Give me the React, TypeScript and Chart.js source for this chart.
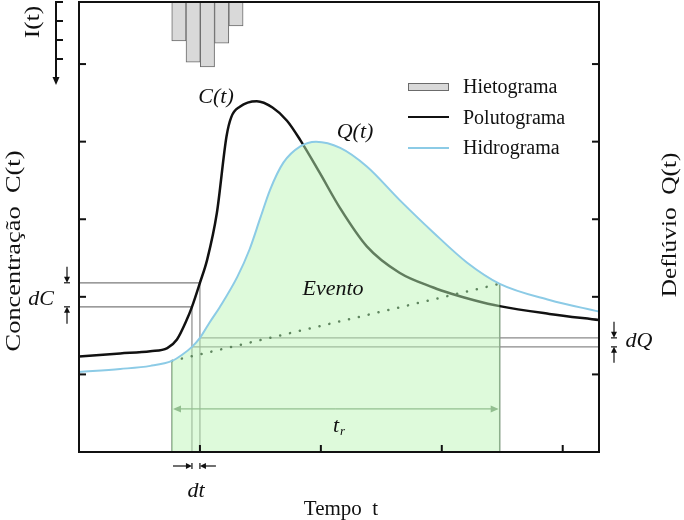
import React, { useEffect, useRef } from "react";
import { Chart, registerables } from "chart.js";

Chart.register(...registerables);

// ---- Data ----
const timeC = [0, 0.34, 0.59, 0.73, 0.81, 0.89, 0.934, 1.0, 1.06, 1.14, 1.22, 1.26, 1.33, 1.47, 1.6, 1.72, 1.83, 1.99, 2.16, 2.38, 2.65, 2.93, 3.08, 3.26, 3.479, 3.89, 4.3];
const concC = [1.23, 1.27, 1.3, 1.34, 1.45, 1.7, 1.871, 2.181, 2.48, 3.08, 4.07, 4.32, 4.45, 4.52, 4.44, 4.27, 4.02, 3.6, 3.14, 2.65, 2.31, 2.12, 2.04, 1.96, 1.88, 1.78, 1.7];

const timeQ = [0, 0.34, 0.59, 0.769, 0.85, 0.934, 1.0, 1.08, 1.165, 1.31, 1.41, 1.5, 1.58, 1.69, 1.83, 1.96, 2.16, 2.38, 2.65, 2.93, 3.21, 3.479, 3.89, 4.3];
const flowQ = [1.03, 1.07, 1.11, 1.174, 1.25, 1.355, 1.471, 1.67, 1.87, 2.26, 2.61, 3.02, 3.38, 3.73, 3.94, 4.0, 3.92, 3.68, 3.25, 2.83, 2.44, 2.168, 1.96, 1.81];

const hyetoTime = [0.826, 0.944, 1.062, 1.18, 1.298];
const hyetoIntensity = [2.05, 3.16, 3.42, 2.16, 1.26];

const xTicks = [1, 2, 3, 4];
const yTicks = [1, 2, 3, 4, 5];
const iTicks = [0, 1, 2, 3];

const eventStart = 0.769;
const eventEnd = 3.479;
const dtStart = 0.934;
const dtEnd = 1.0;
const trLevel = 0.555;

const legendLabels = ["Hietograma", "Polutograma", "Hidrograma"];
const xTitle = "Tempo  t";
const yLeftTitle = "Concentração  C(t)";
const yRightTitle = "Deflúvio  Q(t)";
const iTitle = "I(t)";

const valueAt = (ts: number[], vs: number[], t: number) => vs[ts.indexOf(t)];

const SERIF = '"Liberation Serif", "Times New Roman", serif';
const BLUE = "#8ccbe6";
const BLACK = "#111111";

function arrow(ctx: CanvasRenderingContext2D, x1: number, y1: number, x2: number, y2: number, head = 6, half = 3, bar = 0) {
  const a = Math.atan2(y2 - y1, x2 - x1);
  const c = Math.cos(a), s = Math.sin(a);
  ctx.beginPath();
  ctx.moveTo(x1, y1);
  ctx.lineTo(x2 - c * head * 0.6, y2 - s * head * 0.6);
  ctx.stroke();
  ctx.beginPath();
  ctx.moveTo(x2, y2);
  ctx.lineTo(x2 - c * head - s * half, y2 - s * head + c * half);
  ctx.lineTo(x2 - c * head + s * half, y2 - s * head - c * half);
  ctx.closePath();
  ctx.fill();
  if (bar) {
    ctx.beginPath();
    ctx.moveTo(x2 - s * bar, y2 + c * bar);
    ctx.lineTo(x2 + s * bar, y2 - c * bar);
    ctx.stroke();
  }
}

function seg(ctx: CanvasRenderingContext2D, x1: number, y1: number, x2: number, y2: number) {
  ctx.beginPath();
  ctx.moveTo(x1, y1);
  ctx.lineTo(x2, y2);
  ctx.stroke();
}

function rotText(ctx: CanvasRenderingContext2D, text: string, cx: number, cy: number, font: string, stretch = 1) {
  ctx.save();
  ctx.translate(cx, cy);
  ctx.rotate(-Math.PI / 2);
  ctx.scale(stretch, 1);
  ctx.font = font;
  ctx.textAlign = "center";
  ctx.textBaseline = "middle";
  ctx.fillText(text, 0, 0);
  ctx.restore();
}

const decor = {
  id: "decor",
  beforeDatasetsDraw(chart: any) {
    const { ctx, chartArea: a, scales } = chart;
    const X = (v: number) => scales.x.getPixelForValue(v);
    const Y = (v: number) => scales.y.getPixelForValue(v);
    const c1 = valueAt(timeC, concC, dtStart);
    const c2 = valueAt(timeC, concC, dtEnd);
    const q1 = valueAt(timeQ, flowQ, dtStart);
    const q2 = valueAt(timeQ, flowQ, dtEnd);
    const qs = valueAt(timeQ, flowQ, eventStart);
    const qe = valueAt(timeQ, flowQ, eventEnd);
    ctx.save();
    ctx.strokeStyle = "#7f9a7f";
    ctx.lineWidth = 1.5;
    seg(ctx, X(eventStart), Y(0), X(eventStart), Y(qs));
    seg(ctx, X(eventEnd), Y(0), X(eventEnd), Y(qe));
    ctx.strokeStyle = "#8a8a8a";
    ctx.lineWidth = 1.2;
    seg(ctx, X(dtStart), Y(0), X(dtStart), Y(c1));
    seg(ctx, X(dtEnd), Y(0), X(dtEnd), Y(c2));
    ctx.strokeStyle = "#7a7a7a";
    seg(ctx, a.left, Y(c2), X(dtEnd), Y(c2));
    seg(ctx, a.left, Y(c1), X(dtStart), Y(c1));
    ctx.strokeStyle = "#8a8a8a";
    seg(ctx, X(dtEnd), Y(q2), a.right, Y(q2));
    seg(ctx, X(dtStart), Y(q1), a.right, Y(q1));
    ctx.strokeStyle = "#6f8f6f";
    ctx.fillStyle = "#6f8f6f";
    ctx.lineWidth = 1.3;
    const ty = Y(trLevel);
    const mid = (X(eventStart) + X(eventEnd)) / 2;
    arrow(ctx, mid, ty, X(eventStart) + 1, ty, 8, 3.5);
    arrow(ctx, mid, ty, X(eventEnd) - 1, ty, 8, 3.5);
    ctx.restore();
  },
  afterDatasetsDraw(chart: any) {
    const { ctx, chartArea: a, scales } = chart;
    const X = (v: number) => scales.x.getPixelForValue(v);
    const Y = (v: number) => scales.y.getPixelForValue(v);
    const YI = (v: number) => scales.yI.getPixelForValue(v);
    const c1 = valueAt(timeC, concC, dtStart);
    const c2 = valueAt(timeC, concC, dtEnd);
    const q1 = valueAt(timeQ, flowQ, dtStart);
    const q2 = valueAt(timeQ, flowQ, dtEnd);
    ctx.save();
    ctx.strokeStyle = BLACK;
    ctx.lineWidth = 2;
    ctx.strokeRect(a.left, a.top, a.right - a.left, a.bottom - a.top);
    const tl = 7;
    for (const t of xTicks) seg(ctx, X(t), a.bottom, X(t), a.bottom - tl);
    for (const v of yTicks) {
      seg(ctx, a.left, Y(v), a.left + tl, Y(v));
      seg(ctx, a.right, Y(v), a.right - tl, Y(v));
    }
    const ix = a.left - 23;
    ctx.fillStyle = BLACK;
    ctx.lineWidth = 2;
    arrow(ctx, ix, YI(0) - 1, ix, YI(0) + 83, 8, 3.5);
    for (const v of iTicks) seg(ctx, ix - 1, YI(v), ix + 7, YI(v));
    ctx.lineWidth = 1.2;
    const dcx = a.left - 12;
    arrow(ctx, dcx, Y(c2) - 16, dcx, Y(c2), 6, 3, 3);
    arrow(ctx, dcx, Y(c1) + 17, dcx, Y(c1), 6, 3, 3);
    const dqx = a.right + 15;
    arrow(ctx, dqx, Y(q2) - 16, dqx, Y(q2), 6, 3, 3);
    arrow(ctx, dqx, Y(q1) + 16, dqx, Y(q1), 6, 3, 3);
    const dty = a.bottom + 14;
    arrow(ctx, X(dtStart) - 19, dty, X(dtStart), dty, 6, 3, 3);
    arrow(ctx, X(dtEnd) + 16, dty, X(dtEnd), dty, 6, 3, 3);
    ctx.restore();
  },
  afterDraw(chart: any) {
    const { ctx } = chart;
    ctx.save();
    ctx.fillStyle = "#d9d9d9";
    ctx.fillRect(408, 83, 41, 8);
    ctx.strokeStyle = "#6b6b6b";
    ctx.lineWidth = 1;
    ctx.strokeRect(408.5, 83.5, 40, 7);
    ctx.lineWidth = 2;
    ctx.strokeStyle = BLACK;
    seg(ctx, 408, 117, 449, 117);
    ctx.strokeStyle = BLUE;
    seg(ctx, 408, 148, 449, 148);
    ctx.fillStyle = BLACK;
    ctx.font = `20px ${SERIF}`;
    ctx.textAlign = "left";
    ctx.textBaseline = "alphabetic";
    ctx.fillText(legendLabels[0], 463, 93);
    ctx.fillText(legendLabels[1], 463, 124);
    ctx.fillText(legendLabels[2], 463, 154);
    ctx.font = `21px ${SERIF}`;
    ctx.textAlign = "center";
    ctx.fillText(xTitle, 341, 515);
    rotText(ctx, yLeftTitle, 14, 251, `22px ${SERIF}`, 1.2);
    rotText(ctx, yRightTitle, 670, 225, `22px ${SERIF}`, 1.15);
    rotText(ctx, iTitle, 33, 22, `22px ${SERIF}`, 1.15);
    ctx.font = `italic 22px ${SERIF}`;
    ctx.textAlign = "center";
    ctx.textBaseline = "middle";
    ctx.fillText("C(t)", 216, 97);
    ctx.fillText("Q(t)", 355, 132);
    ctx.fillText("Evento", 333, 289);
    ctx.fillText("dC", 41, 299);
    ctx.fillText("dQ", 639, 341);
    ctx.fillText("dt", 196, 491);
    ctx.textAlign = "left";
    ctx.fillText("t", 333, 426);
    ctx.font = `italic 13px ${SERIF}`;
    ctx.fillText("r", 340, 432);
    ctx.restore();
  },
};

export default function App() {
  const ref = useRef<HTMLCanvasElement | null>(null);
  useEffect(() => {
    if (!ref.current) return;
    const qs = valueAt(timeQ, flowQ, eventStart);
    const qe = valueAt(timeQ, flowQ, eventEnd);
    const i0 = timeQ.indexOf(eventStart);
    const i1 = timeQ.indexOf(eventEnd);
    const chart = new Chart(ref.current, {
      type: "line",
      data: {
        datasets: [
          {
            type: "line",
            label: "Hidrograma",
            data: timeQ.map((t, i) => ({ x: t, y: flowQ[i] })),
            borderColor: BLUE,
            borderWidth: 2,
            pointRadius: 0,
            cubicInterpolationMode: "monotone",
            fill: false,
            order: 0,
          },
          {
            type: "line",
            label: "Tendência",
            data: [
              { x: eventStart, y: qs },
              { x: eventEnd, y: qe },
            ],
            borderColor: "#5f855f",
            borderWidth: 2.5,
            borderDash: [0.1, 10],
            borderCapStyle: "round",
            pointRadius: 0,
            tension: 0,
            fill: false,
            order: 1,
          },
          {
            type: "line",
            label: "Evento",
            data: timeQ.slice(i0, i1 + 1).map((t, i) => ({ x: t, y: flowQ[i0 + i] })),
            borderColor: "rgba(0,0,0,0)",
            borderWidth: 1,
            backgroundColor: "rgba(186,245,180,0.48)",
            fill: "origin",
            pointRadius: 0,
            cubicInterpolationMode: "monotone",
            order: 2,
          },
          {
            type: "line",
            label: "Polutograma",
            data: timeC.map((t, i) => ({ x: t, y: concC[i] })),
            borderColor: BLACK,
            borderWidth: 2.5,
            pointRadius: 0,
            cubicInterpolationMode: "monotone",
            fill: false,
            order: 3,
          },
          {
            type: "bar",
            label: "Hietograma",
            data: hyetoTime.map((t, i) => ({ x: t, y: hyetoIntensity[i] })),
            yAxisID: "yI",
            backgroundColor: "#d9d9d9",
            borderColor: "#6b6b6b",
            borderWidth: 1,
            barPercentage: 1,
            categoryPercentage: 1,
            order: 4,
          },
        ] as any,
      },
      options: {
        animation: false,
        responsive: false,
        events: [],
        layout: { padding: { left: 79, right: 85, top: 2, bottom: 68 } },
        scales: {
          x: { type: "linear", min: 0, max: 4.3, offset: false, grid: { offset: false }, display: false },
          y: { type: "linear", min: 0, max: 5.8, display: false },
          yI: { type: "linear", min: 0, max: 23.68, reverse: true, display: false },
        },
        plugins: { legend: { display: false }, tooltip: { enabled: false } },
      } as any,
      plugins: [decor],
    });
    return () => chart.destroy();
  }, []);
  return (
    <div style={{ position: "absolute", left: 0, top: 0, width: 684, height: 520, background: "#fff" }}>
      <canvas ref={ref} width={684} height={520} style={{ display: "block" }} />
    </div>
  );
}
